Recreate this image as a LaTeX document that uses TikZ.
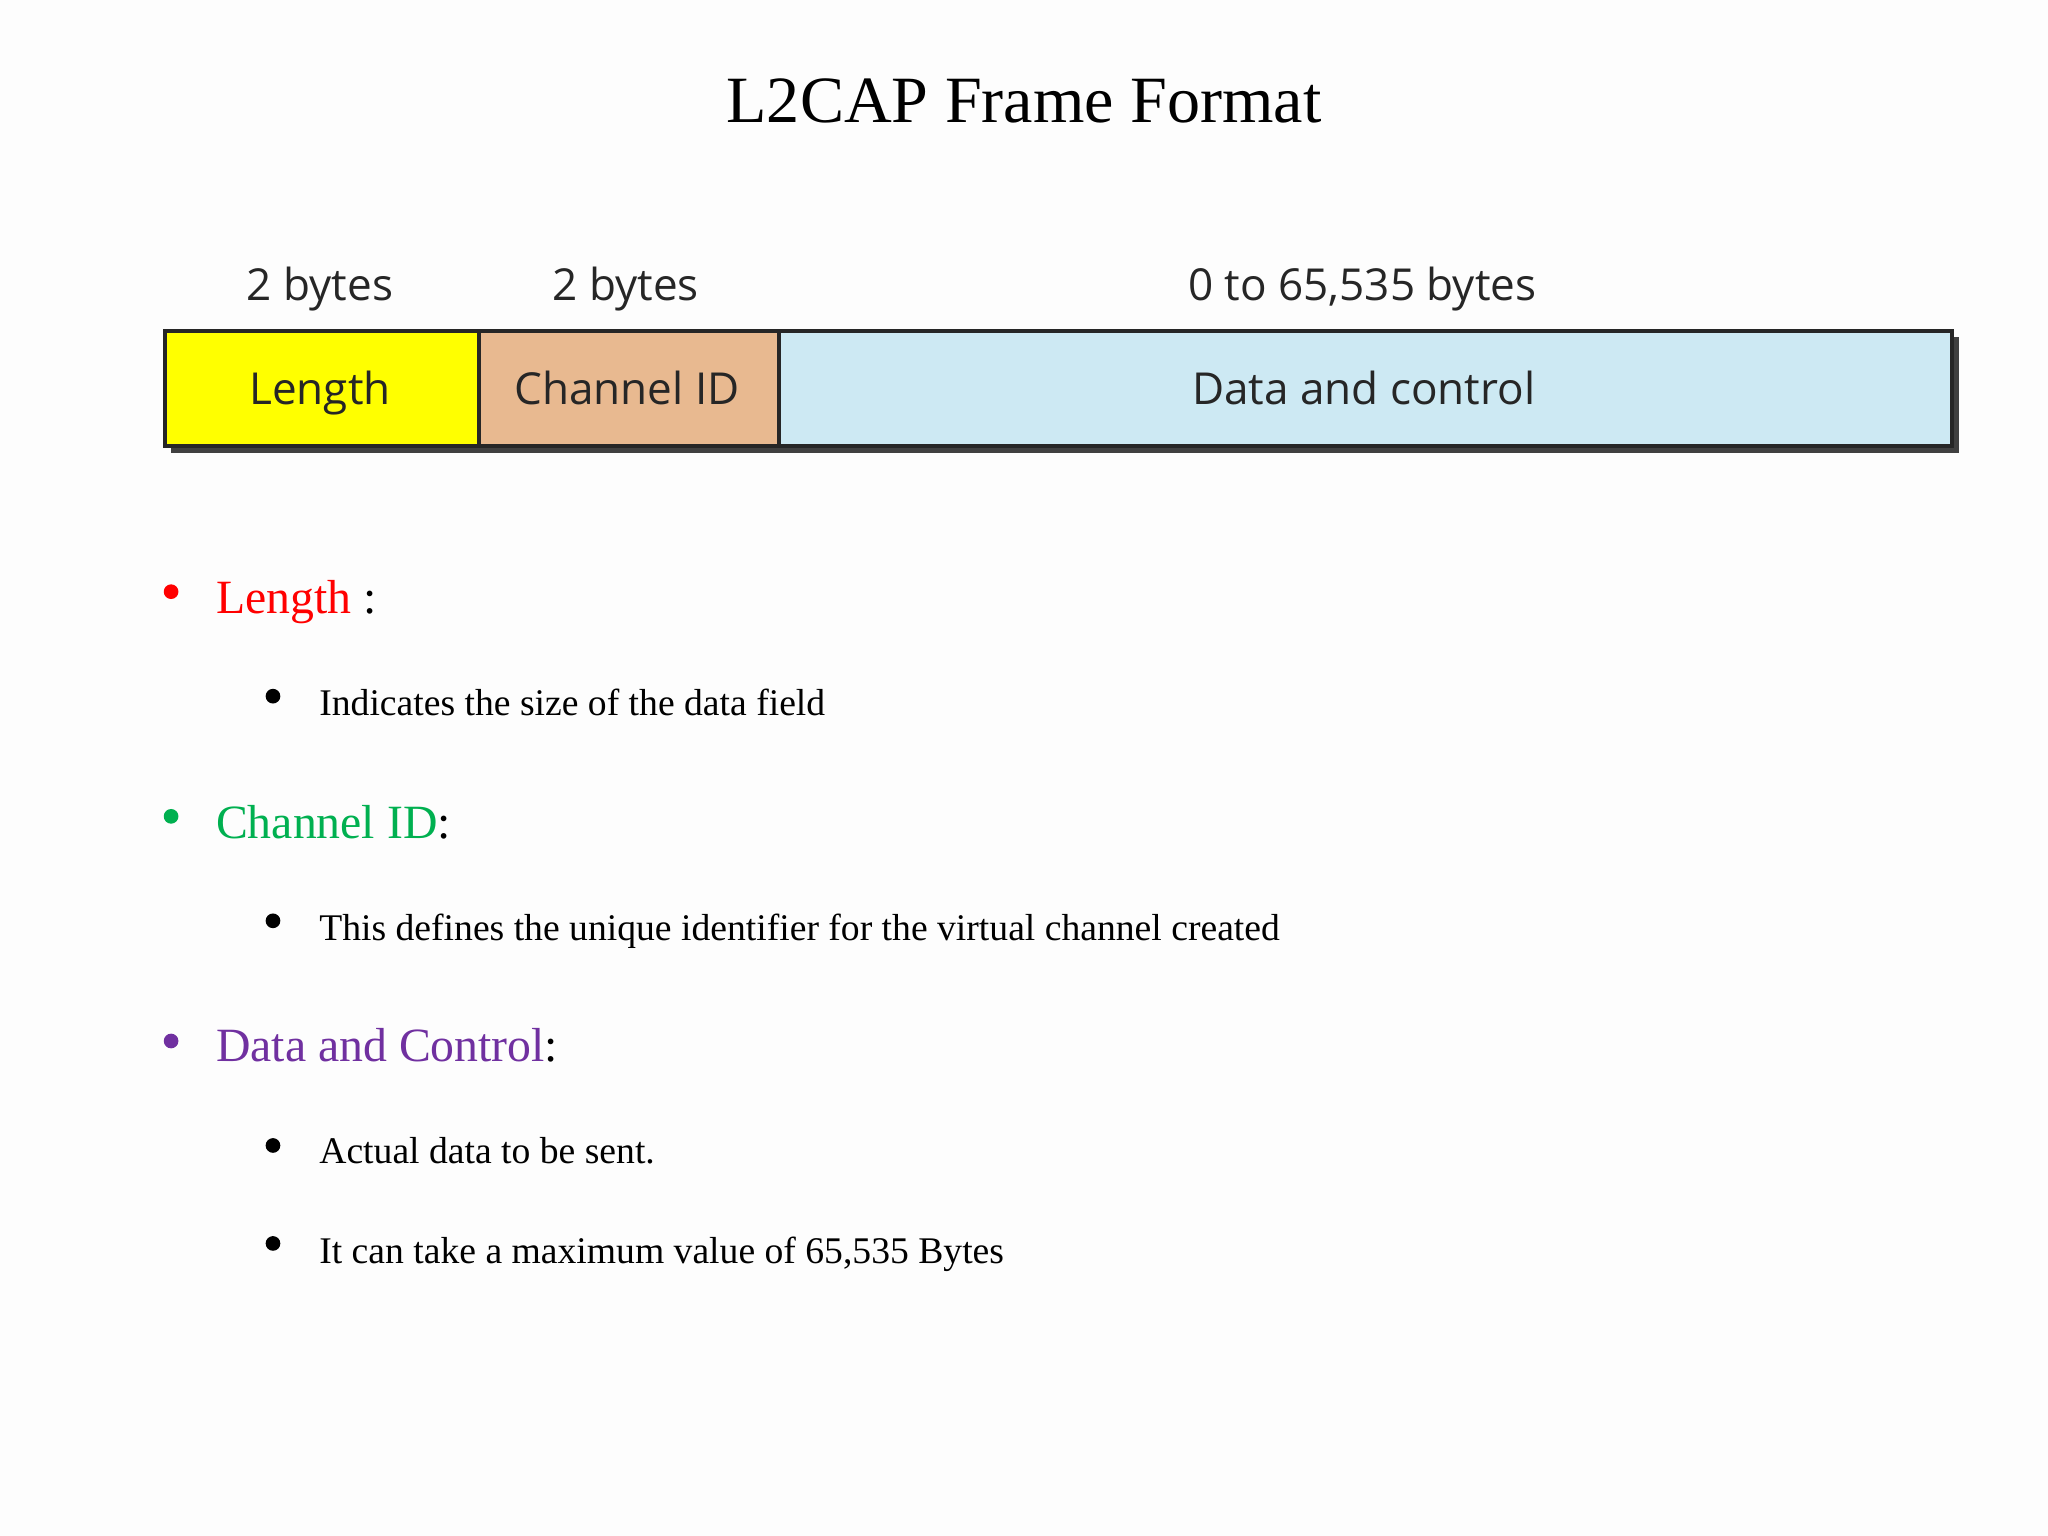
\documentclass[tikz,border=0pt]{standalone}
\usepackage{fontspec}
\setmainfont{Liberation Serif}
\newfontfamily\boxfont{Open Sans}
\definecolor{bg}{HTML}{FDFDFD}
\definecolor{lenc}{HTML}{FFFF00}
\definecolor{chc}{HTML}{E8B990}
\definecolor{datc}{HTML}{CDE9F3}
\definecolor{hred}{HTML}{FF0000}
\definecolor{hgreen}{HTML}{00B050}
\definecolor{hpurple}{HTML}{7030A0}
\begin{document}
\begin{tikzpicture}[x=0.05cm,y=-0.05cm,
  field/.style={draw=black!85,line width=4.5pt,inner sep=0,anchor=north west},
  blabel/.style={font=\boxfont\fontsize{48}{52}\selectfont,text=black!85,anchor=base,inner sep=0},
  head/.style={anchor=base west,font=\fontsize{52}{56}\selectfont},
  sub/.style={anchor=base west,font=\fontsize{41}{44}\selectfont},
  dot/.style={circle,inner sep=0,minimum size=16pt}]
\fill[bg] (0,0) rectangle (1568,1176);
\useasboundingbox (0,0) rectangle (1568,1176);
\node[font=\fontsize{72}{76}\selectfont] (title) at (784,77) {L2CAP Frame Format};
% shadow
\fill[black!75] (131,258) rectangle (1500,347);
\node[field,fill=lenc,minimum width=240*0.05cm,minimum height=88*0.05cm] (len) at (125,252) {};
\node[field,fill=chc,minimum width=230*0.05cm,minimum height=88*0.05cm] (cid) at (365,252) {};
\node[field,fill=datc,minimum width=898*0.05cm,minimum height=88*0.05cm] (dat) at (595,252) {};
\node[blabel] (l1) at (245,310) {Length};
\node[blabel] (l2) at (480,310) {Channel ID};
\node[blabel] (l3) at (1044,310) {Data and control};
\node[blabel] (b1) at (245,230) {2 bytes};
\node[blabel] (b2) at (479,230) {2 bytes};
\node[blabel] (b3) at (1043,230) {0 to 65,535 bytes};
% bullets
\node[dot,fill=hred] (d1) at (131,453) {};
\node[head,text=hred] (h1) at (163,470) {Length\textcolor{black}{\ :}};
\node[dot,fill=black] (s1) at (209,533) {};
\node[sub] (t1) at (242,548) {Indicates the size of the data field};
\node[dot,fill=hgreen] (d2) at (131,625) {};
\node[head,text=hgreen] (h2) at (163,642) {Channel ID\textcolor{black}{:}};
\node[dot,fill=black] (s2) at (209,705) {};
\node[sub] (t2) at (242,720) {This defines the unique identifier for the virtual channel created};
\node[dot,fill=hpurple] (d3) at (131,797) {};
\node[head,text=hpurple] (h3) at (163,813) {Data and Control\textcolor{black}{:}};
\node[dot,fill=black] (s3) at (209,877) {};
\node[sub] (t3) at (242,891) {Actual data to be sent.};
\node[dot,fill=black] (s4) at (209,952) {};
\node[sub] (t4) at (242,967) {It can take a maximum value of 65,535 Bytes};
\end{tikzpicture}
\end{document}
